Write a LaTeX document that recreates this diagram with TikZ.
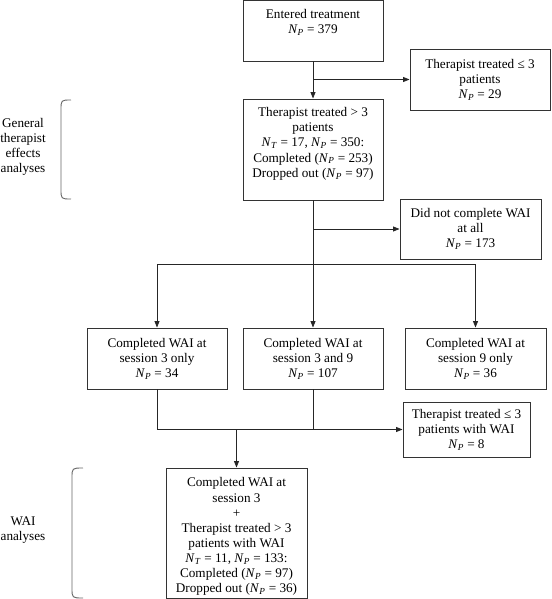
\documentclass[tikz,border=0pt]{standalone}
\usepackage{fontspec}
\setmainfont{Liberation Serif}
\usetikzlibrary{arrows.meta}
\newcommand{\NP}{\textit{N}\textsubscript{\textit{P}}}
\newcommand{\NT}{\textit{N}\textsubscript{\textit{T}}}
\begin{document}
\begin{tikzpicture}[x=1pt,y=-1pt,
  box/.style={draw=black!80, line width=0.9pt, rectangle, inner sep=0pt},
  txt/.style={align=center, font=\fontsize{13.2}{15.1}\selectfont, inner sep=0pt},
  conn/.style={draw=black!85, line width=0.9pt},
  arr/.style={conn, -{Triangle[length=6.5pt,width=5pt]}},
  bracket/.style={draw=black!60, line width=0.9pt}]
\useasboundingbox (0,0) rectangle (551,599);

% boxes
\node[box, minimum width=140pt, minimum height=60.5pt] (entered) at (313,30.75) {};
\node[txt] (enteredtxt) at (313,22.3) {Entered treatment\\\NP{} = 379};

\node[box, txt, minimum width=140pt, minimum height=61pt] (few) at (480,79.5)
  {Therapist treated ≤ 3\\patients\\\NP{} = 29};

\node[box, minimum width=140pt, minimum height=101pt] (ok) at (313,149.5) {};
\node[txt] (oktxt) at (313,143.8) {Therapist treated > 3\\patients\\\NT{} = 17, \NP{} = 350:\\Completed (\NP{} = 253)\\Dropped out (\NP{} = 97)};

\node[box, txt, minimum width=141pt, minimum height=60pt] (none) at (470.5,229)
  {Did not complete WAI\\at all\\\NP{} = 173};

\node[box, txt, minimum width=140pt, minimum height=61pt] (only3) at (157,358.5)
  {Completed WAI at\\session 3 only\\\NP{} = 34};
\node[box, txt, minimum width=140pt, minimum height=61pt] (both) at (313,358.5)
  {Completed WAI at\\session 3 and 9\\\NP{} = 107};
\node[box, txt, minimum width=141pt, minimum height=61pt] (only9) at (475.5,358.5)
  {Completed WAI at\\session 9 only\\\NP{} = 36};

\node[box, txt, minimum width=127pt, minimum height=55pt] (fewwai) at (466.5,429.5)
  {Therapist treated ≤ 3\\patients with WAI\\\NP{} = 8};

\node[box, minimum width=141pt, minimum height=130pt] (final) at (236.5,533) {};
\node[txt] (finaltxt) at (236.5,536.6) {Completed WAI at\\session 3\\+\\Therapist treated > 3\\patients with WAI\\\NT{} = 11, \NP{} = 133:\\Completed (\NP{} = 97)\\Dropped out (\NP{} = 36)};

% side labels
\node[txt] (gen) at (23,146.8) {General\\therapist\\effects\\analyses};
\node[txt] (wai) at (23,530) {WAI\\analyses};
\draw[bracket] (71,100) .. controls (61,100) .. (61,110) -- (61,189) .. controls (61,199) .. (71,199);
\draw[bracket] (83,468) .. controls (72,468) .. (72,478) -- (72,588) .. controls (72,598) .. (83,598);

% connectors
\draw[arr] (entered.south) -- (ok.north);
\coordinate (j1) at (313,79.5);
\draw[arr] (j1) -- (few.west);
\draw[arr] (ok.south) -- (both.north);
\coordinate (j2) at (313,229);
\draw[arr] (j2) -- (none.west);
\coordinate (j3l) at (157,264);
\coordinate (j3r) at (475.5,264);
\draw[conn] (j3l) -- (j3r);
\draw[arr] (j3l) -- (only3.north);
\draw[arr] (j3r) -- (only9.north);
\coordinate (j4) at (313,429.5);
\draw[conn] (only3.south) |- (j4);
\draw[conn] (both.south) -- (j4);
\draw[arr] (j4) -- (fewwai.west);
\coordinate (j5) at (236.5,429.5);
\draw[arr] (j5) -- (final.north);
\end{tikzpicture}
\end{document}
